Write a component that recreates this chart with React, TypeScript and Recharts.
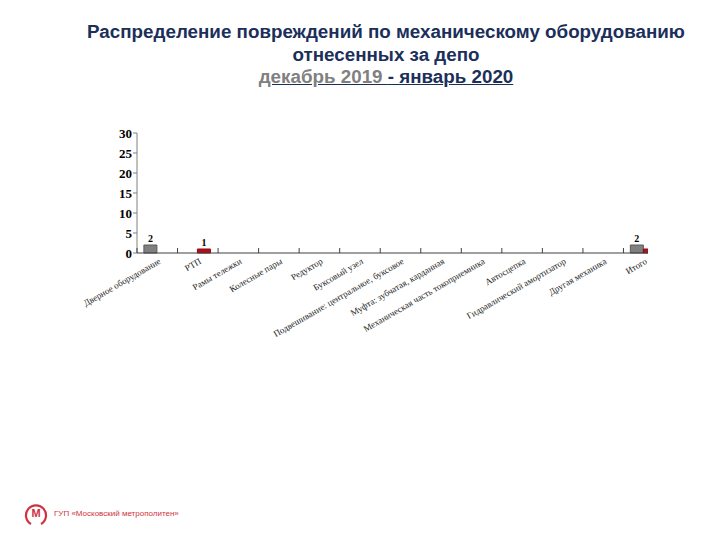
import { BarChart, Bar, XAxis, YAxis, LabelList } from "recharts";

const categories = [
  "Дверное оборудование",
  "РТП",
  "Рамы тележки",
  "Колесные пары",
  "Редуктор",
  "Буксовый узел",
  "Подвешивание: центральное, буксовое",
  "Муфта: зубчатая, карданная",
  "Механическая часть токоприемника",
  "Автосцепка",
  "Гидравлический амортизатор",
  "Другая механика",
  "Итого",
];
const december2019 = [2, 0, 0, 0, 0, 0, 0, 0, 0, 0, 0, 0, 2];
const january2020 = [0, 1, 0, 0, 0, 0, 0, 0, 0, 0, 0, 0, 1];
const yTicks = [0, 5, 10, 15, 20, 25, 30];

const data = categories.map((name, i) => ({
  name,
  dec: december2019[i],
  jan: january2020[i],
}));

const CHART_W = 720;
const CHART_H = 540;
const M_LEFT = 97;
const Y_W = 40;
const M_RIGHT = 56;
const CLIP_W = 648;
const HALF_BAND = (CHART_W - M_LEFT - Y_W - M_RIGHT) / categories.length / 2;

const serif = "'Liberation Serif', 'Times New Roman', serif";
const sans = "'Liberation Sans', Arial, sans-serif";
const navy = "#1b2f5a";

function CategoryTick(props: any) {
  const { x, y, payload } = props;
  const tx = x + 4;
  const ty = y + 10;
  return (
    <g>
      <line x1={x - HALF_BAND} y1={y} x2={x - HALF_BAND} y2={y - 5} stroke="#404040" />
      <text
        x={tx}
        y={ty}
        transform={`rotate(-30, ${tx}, ${ty})`}
        textAnchor="end"
        fontFamily={serif}
        fontSize={9}
        fill="#222"
      >
        {payload.value}
      </text>
    </g>
  );
}

// value label above a bar; zero values and labels past the cropped edge are left out
function BarValue(props: any) {
  const { x, y, width, value } = props;
  if (!value || x + width > CLIP_W) return null;
  return (
    <text
      x={x + width / 2}
      y={y - 3}
      textAnchor="middle"
      fontFamily={serif}
      fontSize={10}
      fontWeight="bold"
      fill="#000"
    >
      {value}
    </text>
  );
}

export default function App() {
  return (
    <div
      style={{
        position: "absolute",
        left: 0,
        top: 0,
        width: CHART_W,
        height: CHART_H,
        background: "#fff",
        overflow: "hidden",
      }}
    >
      <div
        style={{
          position: "absolute",
          left: 56,
          top: 21,
          width: 660,
          textAlign: "center",
          fontFamily: sans,
          fontWeight: "bold",
          fontSize: 18.8,
          lineHeight: "22.5px",
          color: navy,
        }}
      >
        <div>Распределение повреждений по механическому оборудованию</div>
        <div>отнесенных за депо</div>
        <div style={{ textDecoration: "underline" }}>
          <span style={{ color: "#808080" }}>декабрь 2019 </span>
          <span>- январь 2020</span>
        </div>
      </div>

      <div style={{ position: "absolute", left: 0, top: 0, width: CLIP_W, height: CHART_H, overflow: "hidden" }}>
        <BarChart
          width={CHART_W}
          height={CHART_H}
          data={data}
          margin={{ top: 133, right: M_RIGHT, left: M_LEFT, bottom: 187 }}
          barCategoryGap="17%"
          barGap={0}
        >
          <XAxis
            dataKey="name"
            interval={0}
            height={100}
            tickSize={0}
            tickMargin={0}
            tick={<CategoryTick />}
            axisLine={{ stroke: "#404040" }}
          />
          <YAxis
            width={Y_W}
            domain={[0, 30]}
            ticks={yTicks}
            interval={0}
            tickSize={4}
            tickMargin={1}
            axisLine={{ stroke: "#808080" }}
            tickLine={{ stroke: "#808080" }}
            tick={{ fontFamily: serif, fontSize: 13, fontWeight: "bold", fill: "#000" }}
          />
          <Bar dataKey="dec" fill="#808080" stroke="#5a5a5a" isAnimationActive={false}>
            <LabelList dataKey="dec" content={<BarValue />} />
          </Bar>
          <Bar dataKey="jan" fill="#b0101c" stroke="#8a0a14" isAnimationActive={false}>
            <LabelList dataKey="jan" content={<BarValue />} />
          </Bar>
        </BarChart>
      </div>

      <svg style={{ position: "absolute", left: 24, top: 500 }} width={24} height={28}>
        <path d="M 7 24 A 10 10 0 1 1 17 24" fill="none" stroke="#d0313c" strokeWidth={2.2} />
        <text x={12} y={17} textAnchor="middle" fontFamily={sans} fontWeight="bold" fontSize={11} fill="#d0313c">
          М
        </text>
      </svg>
      <div
        style={{
          position: "absolute",
          left: 54,
          top: 509,
          fontFamily: sans,
          fontSize: 8,
          color: "#d0313c",
        }}
      >
        ГУП «Московский метрополитен»
      </div>
    </div>
  );
}
